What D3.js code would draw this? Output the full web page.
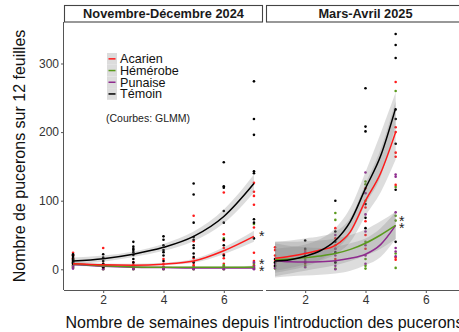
<!DOCTYPE html>
<html>
<head>
<meta charset="utf-8">
<script src="https://cdn.jsdelivr.net/npm/d3@7"></script>
<style>
  html, body { margin: 0; padding: 0; background: #fff; }
  svg { display: block; font-family: "Liberation Sans", Arial, sans-serif; }
</style>
</head>
<body>
<svg id="chart" width="459" height="332"></svg>
<script>
// ---- Data -------------------------------------------------------------
const panels = ["Novembre-Décembre 2024", "Mars-Avril 2025"];
const treatments = ["Acarien", "Hémérobe", "Punaise", "Témoin"];
const colors = ["#ff1a1a", "#5a9a1c", "#8e2a8e", "#000000"];
const xTicks = [2, 4, 6];
const yTicks = [0, 100, 200, 300];

// Observed counts per week (index 0 = week 1)
const obsNov = {
  "Témoin":   [[22,18,15,12,10,8,14,20],[22,17,12,8,5,3],[40,33,30,28,25,21,15,10],[48,43,35,28,25,20,12],
               [125,109,68,47,43,35,31,23,18,10],[156,121,119,85,68,43,35,20],[274,219,196,143,140,73,68,45]],
  "Acarien":  [[24,20,16,12,8,5],[31,8,4,2],[10,6,3,1],[15,8,4,2],[78,41,16,10,6,3,1],
               [112,51,42,31,22,16,8,4],[126,113,107,94,61,24,12,6]],
  "Hémérobe": [[15,10,6,3],[5,2,0],[3,1,0],[2,1,0],[3,1,0],[45,6,2,0],[66,8,3,1]],
  "Punaise":  [[12,8,4,1],[6,2,0],[2,0],[3,1,0],[2,0],[3,0],[10,4,1,0]]
};
const obsMar = {
  "Témoin":   [[15,10,5],[42,30,20,10],[100,55,40,25,10],[264,208,201,95,75,60],[343,327,308,233,219,183,116,40]],
  "Acarien":  [[32,28,20,12,5],[28,18,8],[60,45,30,15],[118,90,70,50,30],[273,207,200,170,164,123,17,14]],
  "Hémérobe": [[10,4,1],[15,5],[82,72,35,10,1],[128,124,100,40,15,5,1],[260,120,78,71,23,2]],
  "Punaise":  [[15,8,2],[25,12,3],[50,30,20,5,0],[141,111,80,55,35,20,8],[138,135,83,31,26,19]]
};

// GLMM fitted curves with confidence bands
const weeksNov = [1, 2, 3, 4, 5, 6, 7];
const fitNov = {
  "Témoin":   [12, 15.5, 22, 32, 48, 77, 125],
  "Acarien":  [8, 6.5, 6, 7.5, 12, 27, 48],
  "Hémérobe": [8, 5, 3.5, 3, 3, 3, 3.5],
  "Punaise":  [7, 4.5, 3, 2.5, 2, 2, 2]
};
const lowNov = {
  "Témoin":   [7, 11, 18, 27, 41, 67, 112],
  "Acarien":  [5, 4.5, 4.5, 6, 9.5, 22, 40],
  "Hémérobe": [6, 3.8, 2.6, 2.2, 2.2, 2.2, 2.5],
  "Punaise":  [5, 3.4, 2.2, 1.8, 1.4, 1.4, 1.4]
};
const highNov = {
  "Témoin":   [17, 20, 26, 37, 55, 87, 138],
  "Acarien":  [11, 8.5, 8, 9.5, 15, 32, 56],
  "Hémérobe": [10, 6.5, 4.6, 4, 4, 4, 5],
  "Punaise":  [9, 5.8, 4, 3.4, 2.8, 2.8, 2.8]
};

const weeksMar = [1, 1.5, 2, 2.5, 3, 3.5, 4, 4.5, 5];
const fitMar = {
  "Témoin":   [12, 14, 19, 27, 42, 70, 118, 165, 235],
  "Acarien":  [16, 19, 23, 28, 35, 55, 100, 140, 200],
  "Hémérobe": [14, 15, 17, 19.5, 23, 29, 38, 50, 64],
  "Punaise":  [12.5, 11, 10.5, 11, 12.5, 16, 22, 36, 64]
};
const lowMar = {
  "Témoin":   [-2, 2, 7, 14, 28, 52, 95, 135, 210],
  "Acarien":  [-5, -1, 4, 12, 22, 40, 78, 112, 160],
  "Hémérobe": [-10, -6, -2, 2, 6, 12, 20, 30, 44],
  "Punaise":  [-12, -10, -9, -8, -6, -2, 6, 18, 44]
};
const highMar = {
  "Témoin":   [30, 32, 36, 44, 60, 90, 142, 198, 258],
  "Acarien":  [40, 42, 45, 48, 55, 75, 125, 175, 245],
  "Hémérobe": [40, 40, 41, 42, 45, 50, 58, 70, 84],
  "Punaise":  [38, 34, 32, 31, 33, 38, 45, 60, 84]
};

// Significance stars: [week, value, text]
const starsNov = [[7.26, 53, "*"], [7.26, 11.5, "*"], [7.26, 2.5, "*"]];
const starsMar = [[5.2, 75, "*"], [5.2, 65, "*"]];

// ---- Layout -----------------------------------------------------------
const svg = d3.select("#chart");
const plotTop = 22, plotBottom = 290;
const panelBoxes = [{ x0: 64, x1: 263 }, { x0: 266, x1: 465 }];
const y = d3.scaleLinear().domain([-30.2, 360.5]).range([plotBottom, plotTop]);
const colorOf = d3.scaleOrdinal().domain(treatments).range(colors);

const panelData = [
  { obs: obsNov, weeks: weeksNov, fit: fitNov, low: lowNov, high: highNov, stars: starsNov },
  { obs: obsMar, weeks: weeksMar, fit: fitMar, low: lowMar, high: highMar, stars: starsMar }
];

panelData.forEach((pd, pi) => {
  const box = panelBoxes[pi];
  const x = d3.scaleLinear().domain([0.7, 7.3]).range([box.x0, box.x1]);
  const g = svg.append("g");

  // strip
  g.append("rect")
    .attr("x", box.x0 + 0.5).attr("y", 5.5)
    .attr("width", box.x1 - box.x0 - 1).attr("height", 16.5)
    .attr("fill", "#fff").attr("stroke", "#444").attr("stroke-width", 1.1);
  g.append("text")
    .attr("x", (box.x0 + box.x1) / 2).attr("y", 18.3)
    .attr("text-anchor", "middle")
    .attr("font-size", "12.8px").attr("font-weight", "bold").attr("fill", "#1a1a1a")
    .text(panels[pi]);

  // points
  treatments.forEach(t => {
    pd.obs[t].forEach((vals, wi) => {
      g.selectAll(null).data(vals).enter().append("circle")
        .attr("cx", x(wi + 1)).attr("cy", d => y(d))
        .attr("r", 1.3).attr("fill", colorOf(t));
    });
  });

  // confidence bands
  const area = d3.area()
    .x((d, i) => x(pd.weeks[i]))
    .y0(d => y(d[0])).y1(d => y(d[1]))
    .curve(d3.curveMonotoneX);
  treatments.forEach(t => {
    const band = pd.low[t].map((l, i) => [l, pd.high[t][i]]);
    g.append("path").datum(band)
      .attr("d", area)
      .attr("fill", "#808080").attr("fill-opacity", 0.27);
  });

  // fitted curves
  const line = d3.line()
    .x((d, i) => x(pd.weeks[i]))
    .y(d => y(d))
    .curve(d3.curveMonotoneX);
  ["Punaise", "Hémérobe", "Acarien", "Témoin"].forEach(t => {
    g.append("path").datum(pd.fit[t])
      .attr("d", line)
      .attr("fill", "none").attr("stroke", colorOf(t)).attr("stroke-width", 1.5);
  });

  // stars
  g.selectAll(null).data(pd.stars).enter().append("text")
    .attr("x", d => x(d[0])).attr("y", d => y(d[1]) + 8)
    .attr("text-anchor", "middle").attr("font-size", "14px").attr("fill", "#222")
    .text(d => d[2]);

  // x axis
  const xAxis = d3.axisBottom(x).tickValues(xTicks).tickSize(3).tickPadding(2).tickFormat(d3.format("d"));
  const ax = g.append("g").attr("transform", `translate(0,${plotBottom})`).call(xAxis);
  ax.select(".domain").attr("stroke", "#555").attr("d", `M${box.x0},0.5H${box.x1}`);
  ax.selectAll(".tick line").attr("stroke", "#555");
  ax.selectAll(".tick text").attr("font-size", "12px").attr("fill", "#333")
    .attr("font-family", "Liberation Sans, Arial, sans-serif");

  // y axis only on the first panel
  if (pi === 0) {
    const yAxis = d3.axisLeft(y).tickValues(yTicks).tickSize(3).tickPadding(2);
    const ay = g.append("g").attr("transform", `translate(${box.x0},0)`).call(yAxis);
    ay.select(".domain").attr("stroke", "#555").attr("d", `M-0.5,${plotTop}V${plotBottom}`);
    ay.selectAll(".tick line").attr("stroke", "#555");
    ay.selectAll(".tick text").attr("font-size", "12px").attr("fill", "#333")
      .attr("font-family", "Liberation Sans, Arial, sans-serif");
  }
});

// ---- Axis titles ------------------------------------------------------
svg.append("text")
  .attr("x", 264.5).attr("y", 328)
  .attr("text-anchor", "middle").attr("font-size", "16px").attr("fill", "#111")
  .text("Nombre de semaines depuis l'introduction des pucerons");
svg.append("text")
  .attr("transform", "translate(25,156) rotate(-90)")
  .attr("text-anchor", "middle").attr("font-size", "16px").attr("fill", "#111")
  .text("Nombre de pucerons sur 12 feuilles");

// ---- Legend -----------------------------------------------------------
const leg = svg.append("g").attr("transform", "translate(107,53)");
const rowH = 11.7;
treatments.forEach((t, i) => {
  leg.append("rect").attr("x", 0).attr("y", i * rowH).attr("width", 10).attr("height", rowH)
    .attr("fill", "#dcdcdc");
  leg.append("line").attr("x1", 1.5).attr("x2", 8.5)
    .attr("y1", i * rowH + rowH / 2).attr("y2", i * rowH + rowH / 2)
    .attr("stroke", colorOf(t)).attr("stroke-width", 1.5);
  leg.append("text").attr("x", 13).attr("y", i * rowH + rowH / 2)
    .attr("dy", "0.36em").attr("font-size", "12.6px").attr("fill", "#111")
    .text(t);
});
svg.append("text")
  .attr("x", 106).attr("y", 122)
  .attr("font-size", "10.5px").attr("fill", "#222")
  .text("(Courbes: GLMM)");
</script>
</body>
</html>
